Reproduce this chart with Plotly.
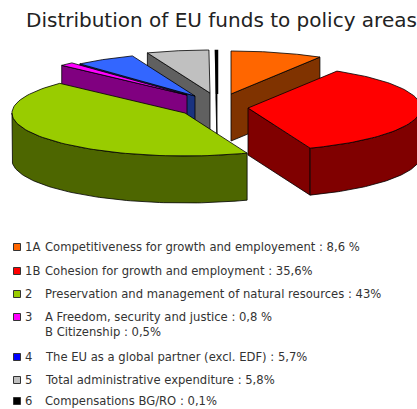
import numpy as np
import plotly.graph_objects as go

# --- data ---
title = "Distribution of EU funds to policy areas"
codes = ["1A", "1B", "2", "3", "4", "5", "6"]
labels = [
    "Competitiveness for growth and employement : 8,6 %",
    "Cohesion for growth and employment : 35,6%",
    "Preservation and management of natural resources : 43%",
    "A Freedom, security and justice : 0,8 %<br>B Citizenship : 0,5%",
    "The EU as a global partner (excl. EDF) : 5,7%",
    "Total administrative expenditure : 5,8%",
    "Compensations BG/RO : 0,1%",
]
values = [8.6, 35.6, 43.0, 1.3, 5.7, 5.8, 0.1]

# --- style ---
top_colors = ["#FF6600", "#FF0000", "#99CC00", "#FF00FF", "#3366FF", "#C0C0C0", "#000000"]
side_colors = ["#803300", "#800000", "#4D6600", "#800080", "#1A3380", "#606060", "#000000"]
legend_colors = ["#FF6600", "#FF0000", "#99CC00", "#FF00FF", "#0000FF", "#C0C0C0", "#000000"]
centre = (217.0, 94.0)
rx, ry, depth = 173.0, 43.0, 47.0
pull_x = [14, 31, -32, -30, -22, -7, 0]
pull_y = [0, 14, 19, 1, 2, -1, 0]
draw_order = [6, 5, 4, 3, 0, 1, 2]
legend_y = [247, 271, 294, 317, 357, 380, 401]

fractions = np.array(values) / sum(values)
edges = np.concatenate([[0], np.cumsum(fractions)]) * 2 * np.pi


def ell(cx, cy, t, drop=0.0):
    return cx + rx * np.sin(t), cy - ry * np.cos(t) + drop


def poly(xs, ys, fill, width=0.8, line="#000000"):
    return go.Scatter(x=list(xs), y=list(ys), mode="lines", fill="toself", fillcolor=fill,
                      line=dict(color=line, width=width), hoverinfo="skip", showlegend=False)


fig = go.Figure()
for i in draw_order:
    cx, cy = centre[0] + pull_x[i], centre[1] + pull_y[i]
    a0, a1 = edges[i], edges[i + 1]
    # radial side walls that face the viewer
    for a, visible in ((a0, np.sin(a0) < 0), (a1, np.sin(a1) > 0)):
        if visible:
            ex, ey = ell(cx, cy, a)
            fig.add_trace(poly([cx, ex, ex, cx, cx], [cy, ey, ey + depth, cy + depth, cy], side_colors[i]))
    # outer curved wall (front half of the ellipse only)
    lo, hi = max(a0, np.pi / 2), min(a1, 1.5 * np.pi)
    if hi > lo:
        t = np.linspace(lo, hi, 80)
        ox, oy = ell(cx, cy, t)
        fig.add_trace(poly(np.r_[ox, ox[::-1], ox[0]], np.r_[oy, oy[::-1] + depth, oy[0]], side_colors[i]))
    # top face
    t = np.linspace(a0, a1, 80)
    ox, oy = ell(cx, cy, t)
    fig.add_trace(poly(np.r_[cx, ox, cx], np.r_[cy, oy, cy], top_colors[i],
                       width=2.5 if i == 6 else 0.8))

annotations = [dict(x=24, y=20, text=title, showarrow=False, xanchor="left", yanchor="middle",
                    font=dict(family="DejaVu Sans", size=20, color="#222222"))]
for i in range(len(codes)):
    y = legend_y[i]
    annotations.append(dict(x=23, y=y, text=codes[i], showarrow=False, xanchor="left", yanchor="middle",
                            font=dict(family="DejaVu Sans", size=11.6, color="#333333")))
    annotations.append(dict(x=43, y=y, text=labels[i], showarrow=False, xanchor="left",
                            yanchor="top" if "<br>" in labels[i] else "middle", yshift=9 if "<br>" in labels[i] else 0,
                            align="left", font=dict(family="DejaVu Sans", size=11.6, color="#333333")))

fig.add_trace(go.Scatter(x=[17] * len(codes), y=legend_y, mode="markers",
                         marker=dict(symbol="square", size=7, color=legend_colors,
                                     line=dict(color="#333333", width=1)),
                         hoverinfo="skip", showlegend=False))

fig.update_layout(
    width=417, height=409, margin=dict(l=0, r=0, t=0, b=0),
    paper_bgcolor="white", plot_bgcolor="white", annotations=annotations,
    xaxis=dict(range=[0, 417], visible=False, fixedrange=True),
    yaxis=dict(range=[409, 0], visible=False, fixedrange=True),
)
fig.write_html("out.html", config=dict(displayModeBar=False),
               post_script="document.body.style.margin='0';document.body.style.overflow='hidden';")
